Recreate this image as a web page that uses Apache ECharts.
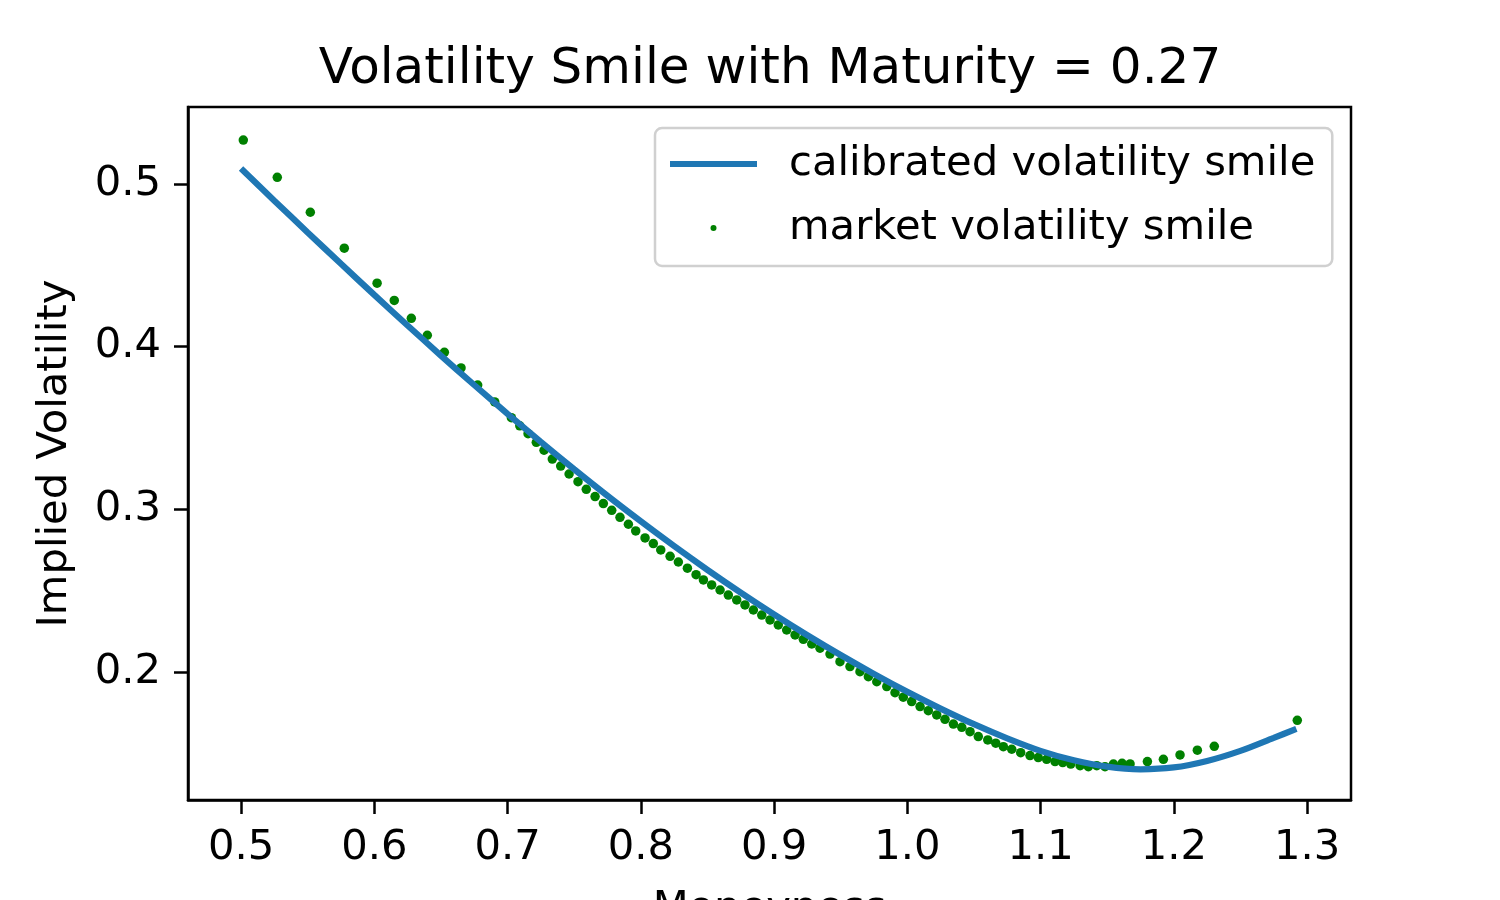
<!DOCTYPE html>
<html>
<head>
<meta charset="utf-8">
<script src="https://cdn.jsdelivr.net/npm/echarts@6/dist/echarts.min.js"></script>
<style>
  html, body { margin: 0; padding: 0; background: #fff; }
  #chart { width: 1500px; height: 900px; }
</style>
</head>
<body>
<div id="chart"></div>
<script>
(function() {
    'use strict';

    // market quotes
    var marketMoneyness = [
        0.5017, 0.5272, 0.5520, 0.5775, 0.6021, 0.6150, 0.6278, 0.6398, 0.6526, 0.6651,
        0.6776, 0.6904, 0.7029, 0.7092, 0.7154, 0.7216, 0.7274, 0.7336, 0.7399, 0.7462,
        0.7529, 0.7591, 0.7657, 0.7719, 0.7782, 0.7844, 0.7907, 0.7962, 0.8032, 0.8094,
        0.8150, 0.8220, 0.8282, 0.8350, 0.8415, 0.8470, 0.8532, 0.8595, 0.8657, 0.8720,
        0.8782, 0.8845, 0.8908, 0.8970, 0.9032, 0.9095, 0.9158, 0.9220, 0.9283, 0.9345,
        0.9420, 0.9495, 0.9570, 0.9645, 0.9708, 0.9771, 0.9846, 0.9908, 0.9970, 1.0033,
        1.0096, 1.0158, 1.0221, 1.0283, 1.0346, 1.0409, 1.0471, 1.0533, 1.0604, 1.0664,
        1.0721, 1.0784, 1.0851, 1.0921, 1.0983, 1.1046, 1.1109, 1.1167, 1.1227, 1.1297,
        1.1359, 1.1422, 1.1484, 1.1547, 1.1612, 1.1672, 1.1802, 1.1922, 1.2047, 1.2177,
        1.2304, 1.2927
    ];
    var marketVol = [
        0.5270, 0.5041, 0.4826, 0.4605, 0.4390, 0.4284, 0.4174, 0.4070, 0.3965, 0.3869,
        0.3764, 0.3660, 0.3563, 0.3513, 0.3465, 0.3412, 0.3363, 0.3309, 0.3266, 0.3217,
        0.3170, 0.3123, 0.3078, 0.3035, 0.2994, 0.2951, 0.2908, 0.2867, 0.2824, 0.2789,
        0.2750, 0.2711, 0.2676, 0.2638, 0.2598, 0.2566, 0.2535, 0.2504, 0.2473, 0.2443,
        0.2412, 0.2381, 0.2350, 0.2320, 0.2289, 0.2258, 0.2228, 0.2201, 0.2172, 0.2146,
        0.2110, 0.2063, 0.2033, 0.2002, 0.1971, 0.1940, 0.1910, 0.1873, 0.1845, 0.1818,
        0.1787, 0.1762, 0.1736, 0.1709, 0.1680, 0.1660, 0.1633, 0.1603, 0.1582, 0.1562,
        0.1541, 0.1525, 0.1504, 0.1486, 0.1474, 0.1463, 0.1449, 0.1443, 0.1434, 0.1424,
        0.1418, 0.1424, 0.1418, 0.1434, 0.1439, 0.1435, 0.1449, 0.1463, 0.1490, 0.1519,
        0.1543, 0.1703
    ];

    // calibrated smile
    var curveMoneyness = [
        0.500, 0.525, 0.550, 0.575, 0.600, 0.625, 0.650, 0.675, 0.700, 0.725,
        0.750, 0.775, 0.800, 0.825, 0.850, 0.875, 0.900, 0.925, 0.950, 0.975,
        1.000, 1.025, 1.050, 1.075, 1.100, 1.125, 1.150, 1.175, 1.200, 1.225,
        1.250, 1.275, 1.292
    ];
    var curveVol = [
        0.5095, 0.4897, 0.4702, 0.4509, 0.4318, 0.4130, 0.3945, 0.3764, 0.3587, 0.3414,
        0.3246, 0.3083, 0.2926, 0.2774, 0.2628, 0.2488, 0.2354, 0.2226, 0.2104, 0.1988,
        0.1878, 0.1775, 0.1679, 0.1592, 0.1515, 0.1457, 0.1418, 0.1402, 0.1413, 0.1453,
        0.1515, 0.1595, 0.1650
    ];

    var xTicks = [0.5, 0.6, 0.7, 0.8, 0.9, 1.0, 1.1, 1.2, 1.3];
    var yTicks = [0.2, 0.3, 0.4, 0.5];

    var font = 'DejaVu Sans';

    function pairs(xs, ys) {
        var out = [];
        for (var i = 0; i < xs.length; i++) {
            out.push([xs[i], ys[i]]);
        }
        return out;
    }

    var chart = echarts.init(document.getElementById('chart'));

    var option = {
        animation: false,
        backgroundColor: '#fff',
        textStyle: { fontFamily: font },
        title: {
            text: 'Volatility Smile with Maturity = 0.27',
            left: 765,
            textAlign: 'center',
            top: 40,
            textStyle: { fontFamily: font, fontSize: 50, fontWeight: 'normal', color: '#000' }
        },
        legend: {
            orient: 'vertical',
            left: 655,
            top: 128,
            padding: [14, 17, 16, 15],
            itemGap: 20,
            itemWidth: 87,
            itemHeight: 6,
            borderColor: '#d0d0d0',
            borderWidth: 2.5,
            borderRadius: 7,
            backgroundColor: '#fff',
            textStyle: { fontFamily: font, fontSize: 41.7, color: '#000', lineHeight: 44, padding: [0, 0, 0, 27] },
            data: [
                { name: 'calibrated volatility smile', icon: 'rect' },
                { name: 'market volatility smile', icon: 'circle' }
            ]
        },
        grid: {
            left: 188,
            right: 149,
            top: 107,
            bottom: 100,
            outerBoundsMode: 'none',
            show: true,
            borderColor: '#000',
            borderWidth: 2.5,
            backgroundColor: 'transparent'
        },
        xAxis: {
            type: 'value',
            min: 0.4602,
            max: 1.3330,
            name: 'Moneyness',
            nameLocation: 'middle',
            nameGap: 88,
            nameTextStyle: { fontFamily: font, fontSize: 41.7, color: '#000', verticalAlign: 'top' },
            axisLine: { show: true, onZero: false, lineStyle: { color: '#000', width: 2.5 } },
            axisTick: { show: true, inside: false, length: 14, customValues: xTicks, lineStyle: { color: '#000', width: 2.5 } },
            axisLabel: {
                customValues: xTicks,
                margin: 27,
                fontFamily: font,
                fontSize: 41.7,
                color: '#000',
                formatter: function(v) { return v.toFixed(1); }
            },
            splitLine: { show: false }
        },
        yAxis: {
            type: 'value',
            min: 0.1213,
            max: 0.5473,
            name: 'Implied Volatility',
            nameLocation: 'middle',
            nameRotate: 90,
            nameGap: 112,
            nameTextStyle: { fontFamily: font, fontSize: 41.7, color: '#000' },
            axisLine: { show: true, onZero: false, lineStyle: { color: '#000', width: 2.5 } },
            axisTick: { show: true, inside: false, length: 14, customValues: yTicks, lineStyle: { color: '#000', width: 2.5 } },
            axisLabel: {
                customValues: yTicks,
                margin: 27,
                fontFamily: font,
                fontSize: 41.7,
                color: '#000',
                formatter: function(v) { return v.toFixed(1); }
            },
            splitLine: { show: false }
        },
        series: [
            {
                name: 'calibrated volatility smile',
                type: 'line',
                data: pairs(curveMoneyness, curveVol),
                smooth: 0.3,
                showSymbol: false,
                z: 3,
                color: '#1f77b4',
                lineStyle: { color: '#1f77b4', width: 6.25 }
            },
            {
                name: 'market volatility smile',
                type: 'scatter',
                data: pairs(marketMoneyness, marketVol),
                symbol: 'circle',
                symbolSize: 9.5,
                z: 2,
                color: '#008000',
                itemStyle: { color: '#008000', opacity: 1 }
            }
        ]
    };

    chart.setOption(option);
})();
</script>
</body>
</html>
